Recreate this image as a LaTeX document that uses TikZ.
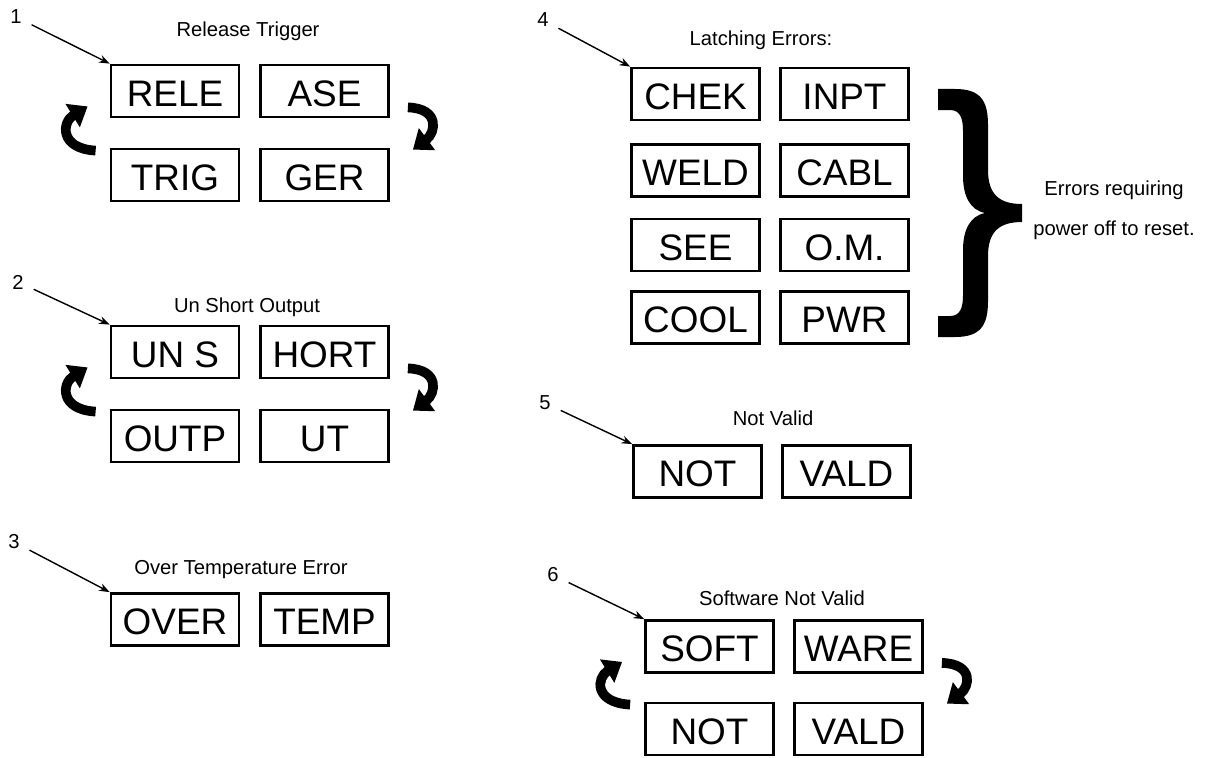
\documentclass[tikz,border=0pt]{standalone}
\usepackage{fontspec}
\setmainfont{Liberation Sans}
\usepackage{tikz}
\usetikzlibrary{arrows.meta,calc}
\tikzset{
  disp/.style={draw, line width=1.6pt, minimum width=2.56cm, minimum height=1.04cm,
               inner sep=0pt, text height=17.5pt, text depth=0pt,
               font=\fontsize{21}{24}\selectfont},   % display window
  ttl/.style={font=\fontsize{11.5}{14}\selectfont, inner sep=1pt},
  num/.style={font=\fontsize{11.5}{14}\selectfont, inner sep=1pt},
  ptr/.style={-{Stealth[length=6pt,width=4.5pt]}, line width=0.8pt, shorten <=5pt}, % callout
  cyc/.style={line width=5.5pt, -{Triangle[length=10pt,width=15pt]}},            % alternating display
}
% #1 top-left, #2 top-right, #3 bottom-left, #4 bottom-right
\newcommand{\spin}[4]{%
  \draw[cyc] ([shift={(-14,3)}]#3.north west) .. controls +(-36,-2) and +(-26,16) .. ([shift={(-22,-12)}]#1.south west);
  \draw[cyc] ([shift={(18,-11)}]#2.south east) .. controls +(32,1) and +(23,-17) .. ([shift={(23,2)}]#4.north east);}

\begin{document}
\begin{tikzpicture}[x=0.02cm,y=-0.02cm]
  \useasboundingbox (0,0) rectangle (1209,757);
  \def\La{175}\def\Lb{324.5}
  \def\Ra{695.5}\def\Rb{844.5}

  % 1
  \node[num] (n1) at (16,17) {1};
  \node[ttl] (t1) at (248,31) {Release Trigger};
  \node[disp] (rele) at (\La,91)  {RELE};
  \node[disp] (ase)  at (\Lb,91)  {ASE};
  \node[disp] (trig) at (\La,175) {TRIG};
  \node[disp] (ger)  at (\Lb,175) {GER};
  \draw[ptr] (n1) -- (rele.north west);
  \spin{rele}{ase}{trig}{ger}

  % 2
  \node[num] (n2) at (18,282) {2};
  \node[ttl] (t2) at (247,307) {Un Short Output};
  \node[disp] (uns)  at (\La,352) {UN S};
  \node[disp] (hort) at (\Lb,352) {HORT};
  \node[disp] (outp) at (\La,436) {OUTP};
  \node[disp] (ut)   at (\Lb,436) {UT};
  \draw[ptr] (n2) -- (uns.north west);
  \spin{uns}{hort}{outp}{ut}

  % 3
  \node[num] (n3) at (14,542) {3};
  \node[ttl] (t3) at (241,570) {Over Temperature Error};
  \node[disp] (over) at (\La,619.5) {OVER};
  \node[disp] (temp) at (\Lb,619.5) {TEMP};
  \draw[ptr] (n3) -- (over.north west);

  % 4
  \node[num] (n4) at (543,20) {4};
  \node[ttl] (t4) at (761,40) {Latching Errors:};
  \node[disp] (chek) at (\Ra,94)    {CHEK};
  \node[disp] (inpt) at (\Rb,94)    {INPT};
  \node[disp] (weld) at (\Ra,170.5) {WELD};
  \node[disp] (cabl) at (\Rb,170.5) {CABL};
  \node[disp] (see)  at (\Ra,245)   {SEE};
  \node[disp] (om)   at (\Rb,245)   {O.M.};
  \node[disp] (cool) at (\Ra,317.5) {COOL};
  \node[disp] (pwr)  at (\Rb,317.5) {PWR};
  \draw[ptr] (n4) -- (chek.north west);
  \fill (938,89) -- (955,89) .. controls (980,89) and (988,100) .. (988,125) -- (988,170)
    .. controls (988,195) and (1000,204) .. (1022,204) -- (1022,222)
    .. controls (1000,222) and (988,231) .. (988,256) -- (988,301)
    .. controls (988,326) and (980,337) .. (955,337) -- (938,337) -- (938,316) -- (950,316)
    .. controls (960,316) and (963,308) .. (963,295) -- (963,250)
    .. controls (963,230) and (970,216) .. (985,213)
    .. controls (970,210) and (963,196) .. (963,176) -- (963,131)
    .. controls (963,118) and (960,110) .. (950,110) -- (938,110) -- cycle;
  \node[ttl, align=center, font=\fontsize{11.5}{22.7}\selectfont] (reset) at (1114,210)
    {Errors requiring\\power off to reset.};

  % 5
  \node[num] (n5) at (545,403) {5};
  \node[ttl] (t5) at (773,418) {Not Valid};
  \node[disp] (not5)  at (697.5,471.5) {NOT};
  \node[disp] (vald5) at (846.5,471.5) {VALD};
  \draw[ptr] (n5) -- (not5.north west);

  % 6
  \node[num] (n6) at (553,575) {6};
  \node[ttl] (t6) at (782,598) {Software Not Valid};
  \node[disp] (soft)  at (709.5,646.5) {SOFT};
  \node[disp] (ware)  at (858.5,646.5) {WARE};
  \node[disp] (not6)  at (709.5,729)   {NOT};
  \node[disp] (vald6) at (858.5,729)   {VALD};
  \draw[ptr] (n6) -- (soft.north west);
  \spin{soft}{ware}{not6}{vald6}
\end{tikzpicture}
\end{document}
